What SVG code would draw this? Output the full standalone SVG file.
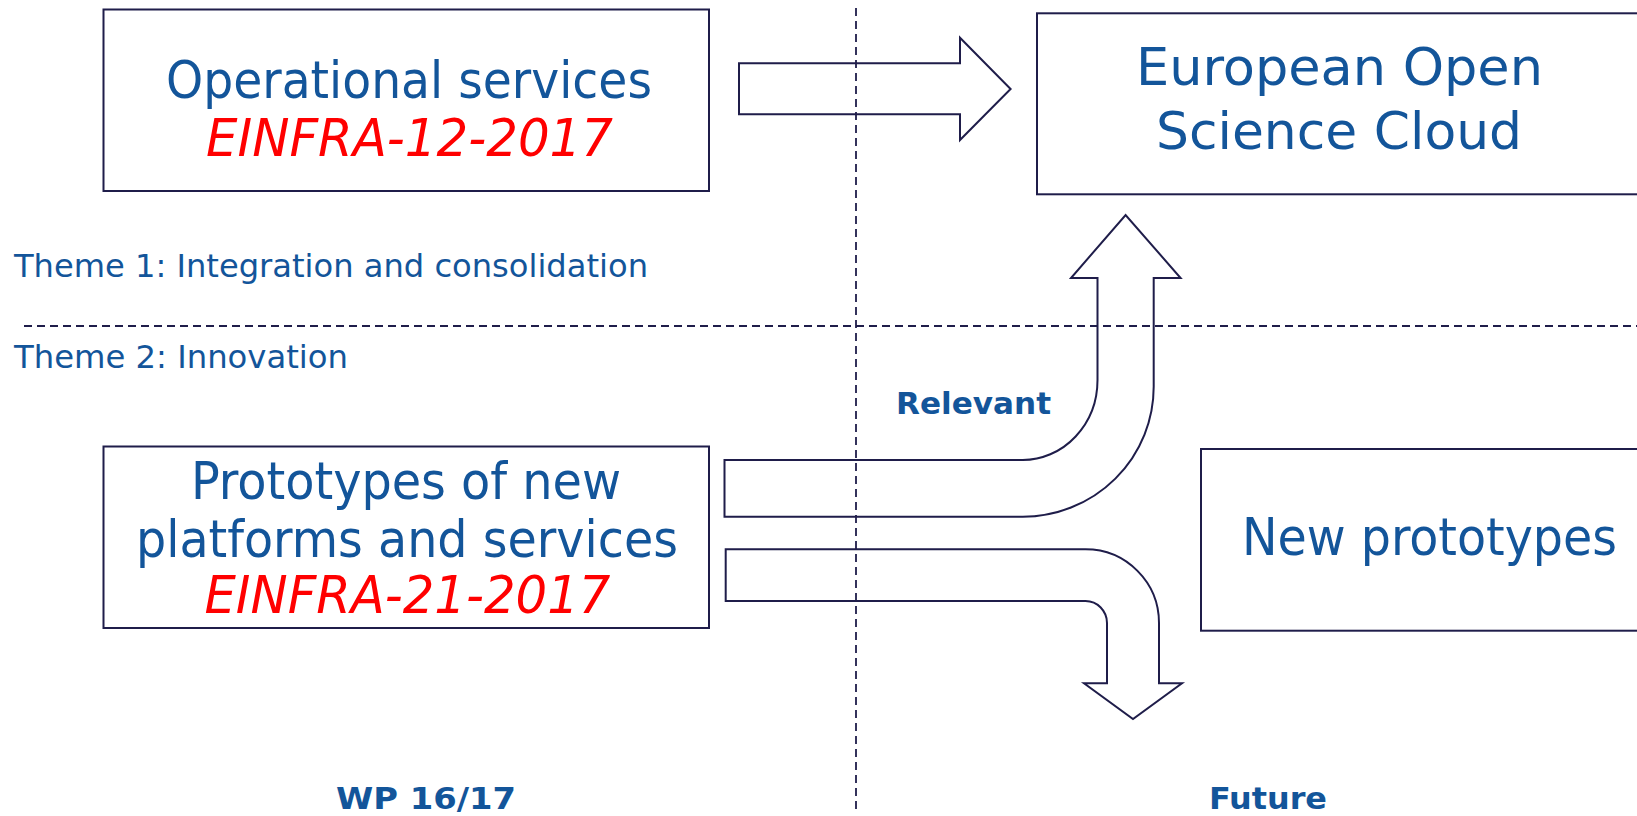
<svg xmlns="http://www.w3.org/2000/svg" width="1637" height="816" viewBox="0 0 1637 816">
<style>
.box{fill:#ffffff;stroke:#1f1d4a;stroke-width:2}
.arr{fill:none;stroke:#1f1d4a;stroke-width:2;stroke-linejoin:miter}
.dash{stroke:#1f1d4a;stroke-width:1.8;stroke-dasharray:8 5;fill:none}
.big{font-family:"DejaVu Sans Condensed","DejaVu Sans",sans-serif;font-size:51px;fill:#13559a}
.red{font-family:"DejaVu Sans Condensed","DejaVu Sans",sans-serif;font-size:51px;font-style:italic;fill:#ff0000}
.theme{font-family:"DejaVu Sans Condensed","DejaVu Sans",sans-serif;font-size:32px;fill:#13559a}
.lbl{font-family:"DejaVu Sans Condensed","DejaVu Sans",sans-serif;font-size:31px;font-weight:bold;fill:#13559a}
</style>
<rect width="1637" height="816" fill="#ffffff"/>
<g id="guides">
<line class="dash" x1="856" y1="8" x2="856" y2="810"/>
<line class="dash" x1="24" y1="326" x2="1637" y2="326"/>
</g>
<g id="labels">
<text class="theme" x="14" y="277" textLength="634" lengthAdjust="spacingAndGlyphs">Theme 1: Integration and consolidation</text>
<text class="theme" x="14" y="368" textLength="334" lengthAdjust="spacingAndGlyphs">Theme 2: Innovation</text>
<text class="lbl" x="896" y="414" textLength="155" lengthAdjust="spacingAndGlyphs">Relevant</text>
<text class="lbl" x="336" y="809" textLength="180" lengthAdjust="spacingAndGlyphs">WP 16/17</text>
<text class="lbl" x="1209" y="809" textLength="118" lengthAdjust="spacingAndGlyphs">Future</text>
</g>
<g id="node-operational">
<rect class="box" x="103.5" y="9.5" width="605.5" height="181.5"/>
<text class="big" x="166" y="97.7" textLength="486" lengthAdjust="spacingAndGlyphs">Operational services</text>
<text class="red" x="206" y="155.7" textLength="407" lengthAdjust="spacingAndGlyphs">EINFRA-12-2017</text>
</g>
<g id="node-eosc">
<rect class="box" x="1037" y="13.3" width="610" height="181"/>
<text class="big" x="1136" y="85" textLength="407" lengthAdjust="spacingAndGlyphs">European Open</text>
<text class="big" x="1156" y="149" textLength="366" lengthAdjust="spacingAndGlyphs">Science Cloud</text>
</g>
<g id="node-prototypes">
<rect class="box" x="103.5" y="446.5" width="605.5" height="181.5"/>
<text class="big" x="191" y="499.3" textLength="430" lengthAdjust="spacingAndGlyphs">Prototypes of new</text>
<text class="big" x="136" y="556.7" textLength="542" lengthAdjust="spacingAndGlyphs">platforms and services</text>
<text class="red" x="204.4" y="613.3" textLength="406" lengthAdjust="spacingAndGlyphs">EINFRA-21-2017</text>
</g>
<g id="node-new-prototypes">
<rect class="box" x="1201" y="449" width="446" height="181.7"/>
<text class="big" x="1242" y="555" textLength="375" lengthAdjust="spacingAndGlyphs">New prototypes</text>
</g>
<g id="connectors">
<path class="arr" d="M739,63.3 H960 V37.7 L1010.6,89 L960,140 V114.3 H739 Z"/>
<path class="arr" d="M724.5,460 H1022.8 A75,80 0 0 0 1097.5,380 V278 H1071 L1125.6,215 L1180.6,278 H1153.7 V386.7 A131,130 0 0 1 1022.8,516.7 H724.5 Z"/>
<path class="arr" d="M725.7,549.3 H1085.5 A73.5,73.7 0 0 1 1159,623 V683.3 H1182 L1133,719 L1084,683.3 H1107 V623 A21.5,22 0 0 0 1085.5,601 H725.7 Z"/>
</g>
</svg>
